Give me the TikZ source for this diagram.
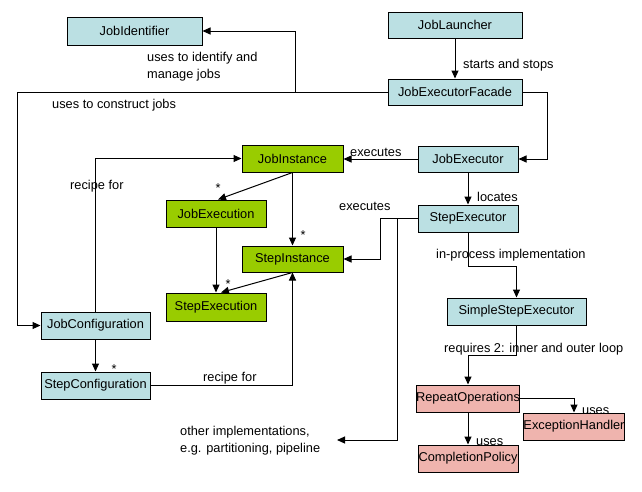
\documentclass[tikz,border=0pt]{standalone}
\usepackage{fontspec}
\setmainfont{Liberation Sans}
\usetikzlibrary{arrows.meta,calc}
\definecolor{boxblue}{HTML}{BBE0E3}
\definecolor{boxgreen}{HTML}{99CC00}
\definecolor{boxpink}{HTML}{EFB4AE}
\begin{document}
\begin{tikzpicture}[x=1pt,y=-1pt,
  every node/.style={font=\fontsize{12.8}{17}\selectfont},
  box/.style={draw=black,line width=1pt,inner sep=0pt,minimum height=27pt},
  bluebox/.style={box,fill=boxblue},
  greenbox/.style={box,fill=boxgreen},
  pinkbox/.style={box,fill=boxpink},
  lbl/.style={anchor=west,inner sep=0pt,align=left},
  star/.style={inner sep=0pt},
  conn/.style={line width=1pt},
  arr/.style={conn,-{Triangle[length=8pt,width=7pt]}}]
\useasboundingbox (0,0) rectangle (642,491);
\fill[white] (0,0) rectangle (642,491);
% labels (under boxes and lines)
\node[lbl] (l1) at (463,65) {starts and stops};
\node[lbl] (l2) at (147,66.5) {uses to identify and\\manage jobs};
\node[lbl] (l3) at (52,105) {uses to construct jobs};
\node[lbl] (l4) at (350,152) {executes};
\node[lbl] (l5) at (477,197) {locates};
\node[lbl] (l6) at (339,206) {executes};
\node[lbl] (l7) at (180,441) {other implementations,\\e.g. partitioning, pipeline};
\node[lbl] (l8) at (436,255) {in-process implementation};
\node[lbl] (l9) at (444,349) {requires 2: inner and outer loop};
\node[lbl] (l10) at (582,411.5) {uses};
\node[lbl] (l11) at (476,442.5) {uses};
\node[lbl] (l12) at (203,378) {recipe for};
\node[lbl] (l13) at (70,186) {recipe for};
\node[star] (s1) at (218,188) {*};
\node[star] (s2) at (303,235) {*};
\node[star] (s3) at (228,284) {*};
\node[star] (s4) at (114,369) {*};
% boxes
\node[bluebox,minimum width=135pt,minimum height=28pt] (jid) at (134.5,31) {JobIdentifier};
\node[bluebox,minimum width=134pt,minimum height=26pt] (jl) at (455,25) {JobLauncher};
\node[bluebox,minimum width=134pt,minimum height=26pt] (jef) at (455,92) {JobExecutorFacade};
\node[bluebox,minimum width=100pt,minimum height=26pt] (je) at (468,159) {JobExecutor};
\node[bluebox,minimum width=100pt] (se) at (468,218.5) {StepExecutor};
\node[greenbox,minimum width=101pt] (ji) at (292.5,158.5) {JobInstance};
\node[greenbox,minimum width=100pt] (jx) at (216,213.5) {JobExecution};
\node[greenbox,minimum width=101pt,minimum height=26pt] (si) at (292.5,259) {StepInstance};
\node[greenbox,minimum width=100pt,minimum height=28pt] (sx) at (216,307) {StepExecution};
\node[bluebox,minimum width=109pt] (jc) at (95.5,325.5) {JobConfiguration};
\node[bluebox,minimum width=109pt] (sc) at (95.5,385.5) {StepConfiguration};
\node[bluebox,minimum width=139pt] (sse) at (516.5,311.5) {SimpleStepExecutor};
\node[pinkbox,minimum width=100pt] (ro) at (468,398.5) {RepeatOperations};
\node[pinkbox,minimum width=100pt] (eh) at (574,426.5) {ExceptionHandler};
\node[pinkbox,minimum width=100pt] (cp) at (468,458.5) {CompletionPolicy};
% helper coordinates
\coordinate (k1) at (547,92);
\coordinate (k2) at (295,92);
\coordinate (k3) at (17,92);
\coordinate (k4) at (380,218.5);
\coordinate (k5) at (397,218.5);
\coordinate (k6) at (337,440);
\coordinate (k7) at (468,266);
\coordinate (k8) at (516.5,355);
% connectors
\draw[arr] (jl) -- (jef);
\draw[arr] (jef.east) -- (k1) |- (je.east);
\draw[arr] (jef.west) -- (k2) |- (jid.east);
\draw[arr] (k2) -- (k3) |- (jc.west);
\draw[arr] (je.west) -- (ji.east |- je.west);
\draw[arr] (je.south) -- (se.north);
\draw[arr] (se.west) -- (k4) |- (si.east);
\draw[arr] (k4) -- (k5) |- (k6);
\draw[arr] (se.south) -- (k7) -| (sse.north);
\draw[arr] (sse.south) -- (k8) -| (ro.north);
\draw[arr] (ro.east) -| (eh.north);
\draw[arr] (ro.south) -- (cp.north);
\draw[arr] (ji.south) -- ($(jx.north)+(2,0)$);
\draw[arr] (ji.south) -- (si.north);
\draw[arr] (jx.south) -- (sx.north);
\draw[arr] (si.south) -- ($(sx.north)+(5,0)$);
\draw[arr] (sc.east) -| (si.south);
\draw[arr] (jc.north) |- (ji.west);
\draw[arr] (jc.south) -- (sc.north);
\end{tikzpicture}
\end{document}
